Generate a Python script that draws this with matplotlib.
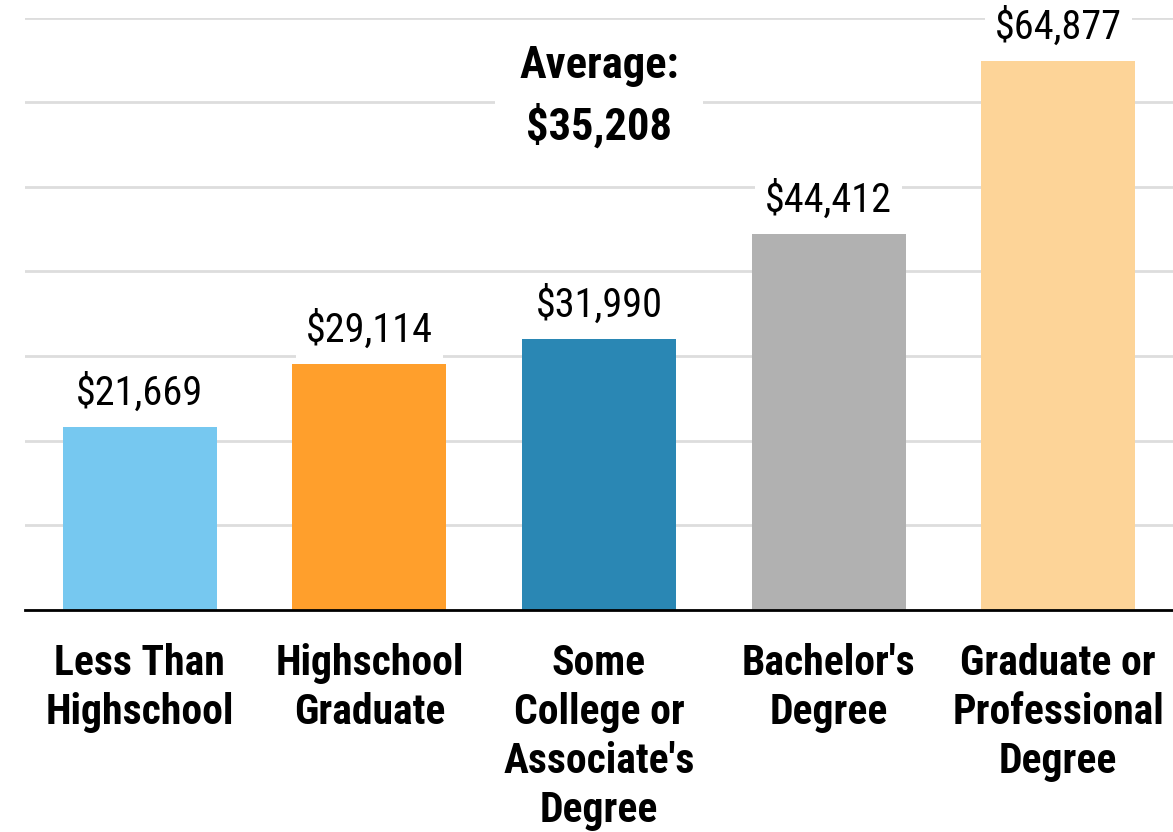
import matplotlib.pyplot as plt
from matplotlib import font_manager

# Median earnings by education level
categories = ["Less Than\nHighschool", "Highschool\nGraduate",
              "Some\nCollege or\nAssociate's\nDegree", "Bachelor's\nDegree",
              "Graduate or\nProfessional\nDegree"]
earnings = [21669, 29114, 31990, 44412, 64877]
average = 35208
colors = ["#76C8F0", "#FF9F2C", "#2A87B4", "#B1B1B1", "#FDD498"]

# narrow sans face, with a fallback if it is missing
names = {f.name for f in font_manager.fontManager.ttflist}
narrow = [n for n in ["Roboto Condensed", "PT Sans Narrow", "Liberation Sans"] if n in names]
plt.rcParams["font.family"] = narrow[:1] + ["DejaVu Sans"]

fig = plt.figure(figsize=(11.73, 8.32), dpi=100)
ax = fig.add_axes([25 / 1173, 1 - 610 / 832, 1 - 25 / 1173, (610 - 17.5) / 832])

x = range(len(categories))
ax.bar(x, earnings, width=0.67, color=colors, zorder=2)
ax.set_xlim(-0.5, len(categories) - 0.5)
ax.set_ylim(0, 70000)
ax.set_yticks(range(0, 70001, 10000))
ax.yaxis.grid(True, color="#DDDDDD", linewidth=2, zorder=0)
ax.tick_params(axis="y", left=False, labelleft=False)
ax.tick_params(axis="x", length=0, pad=24)
ax.set_xticks(list(x))
ax.set_xticklabels(categories, fontsize=30, fontweight="bold", linespacing=1.25,
                   va="top")
for s in ["top", "right", "left"]:
    ax.spines[s].set_visible(False)
ax.spines["bottom"].set_linewidth(2)
ax.spines["bottom"].set_zorder(3)

for i, v in enumerate(earnings):
    ax.annotate(f"${v:,}", (i, v), xytext=(0, 16), textcoords="offset points",
                ha="center", va="baseline", fontsize=29, zorder=4,
                bbox=dict(boxstyle="square,pad=0.25", fc="white", ec="none"))

ax.text(2, 60600, f"Average:\n${average:,}", ha="center", va="center",
        fontsize=32, fontweight="bold", linespacing=1.45, zorder=4,
        bbox=dict(boxstyle="square,pad=0.55", fc="white", ec="none"))

fig.savefig("out.png", dpi=100)
